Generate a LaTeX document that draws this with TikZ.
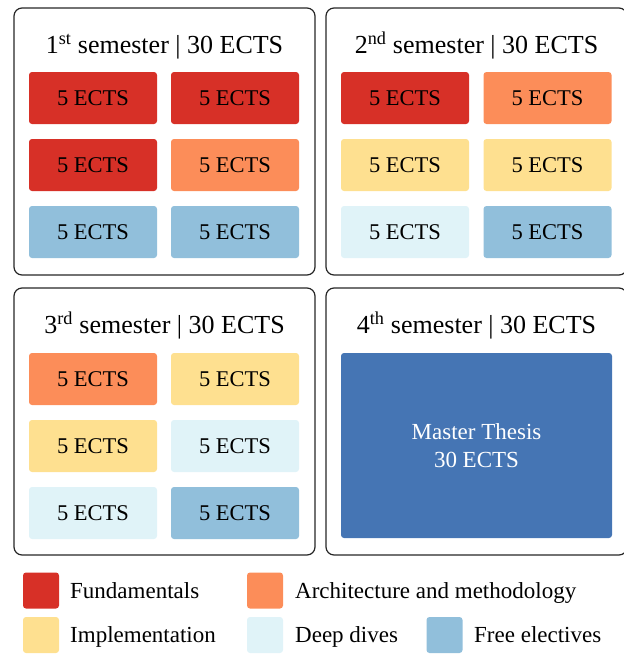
\documentclass[tikz,border=0pt]{standalone}
\usepackage{fontspec}
\setmainfont{Liberation Serif}
\definecolor{fund}{HTML}{D73027}
\definecolor{arch}{HTML}{FC8D59}
\definecolor{impl}{HTML}{FEE090}
\definecolor{deep}{HTML}{E0F3F8}
\definecolor{free}{HTML}{91BFDB}
\definecolor{thesis}{HTML}{4575B4}
\tikzset{
  panel/.style={draw=black!85, line width=1.2pt, rounded corners=8pt, minimum width=301pt, minimum height=267pt, inner sep=0pt},
  course/.style={rounded corners=3pt, minimum width=128pt, minimum height=52pt, inner sep=0pt, font=\fontsize{22.5}{27}\selectfont},
  semtitle/.style={anchor=base, inner sep=0pt, font=\fontsize{26}{30}\selectfont},
  legbox/.style={rounded corners=3pt, minimum width=36pt, minimum height=36pt, inner sep=0pt},
  legtext/.style={anchor=base west, inner sep=0pt, font=\fontsize{23}{27}\selectfont},
}
\begin{document}
\begin{tikzpicture}[x=1pt,y=-1pt]
\useasboundingbox (0,0) rectangle (624,654);
% semester panels
\node[panel] (sem1) at (164.5,141.5) {};
\node[panel] (sem2) at (476.5,141.5) {};
\node[panel] (sem3) at (164.5,421.5) {};
\node[panel] (sem4) at (476.5,421.5) {};

\node[semtitle] (t1) at (164.5,53.5) {1\textsuperscript{st} semester | 30 ECTS};
\node[semtitle] (t2) at (476.5,53.5) {2\textsuperscript{nd} semester | 30 ECTS};
\node[semtitle] (t3) at (164.5,333.5) {3\textsuperscript{rd} semester | 30 ECTS};
\node[semtitle] (t4) at (476.5,333.5) {4\textsuperscript{th} semester | 30 ECTS};

% 1st semester
\node[course, fill=fund] (a1) at (93,98) {5 ECTS};
\node[course, fill=fund] (a2) at (235,98) {5 ECTS};
\node[course, fill=fund] (a3) at (93,165) {5 ECTS};
\node[course, fill=arch] (a4) at (235,165) {5 ECTS};
\node[course, fill=free] (a5) at (93,232) {5 ECTS};
\node[course, fill=free] (a6) at (235,232) {5 ECTS};

% 2nd semester
\node[course, fill=fund] (b1) at (405,98) {5 ECTS};
\node[course, fill=arch] (b2) at (547.5,98) {5 ECTS};
\node[course, fill=impl] (b3) at (405,165) {5 ECTS};
\node[course, fill=impl] (b4) at (547.5,165) {5 ECTS};
\node[course, fill=deep] (b5) at (405,232) {5 ECTS};
\node[course, fill=free] (b6) at (547.5,232) {5 ECTS};

% 3rd semester
\node[course, fill=arch] (c1) at (93,379) {5 ECTS};
\node[course, fill=impl] (c2) at (235,379) {5 ECTS};
\node[course, fill=impl] (c3) at (93,446) {5 ECTS};
\node[course, fill=deep] (c4) at (235,446) {5 ECTS};
\node[course, fill=deep] (c5) at (93,513) {5 ECTS};
\node[course, fill=free] (c6) at (235,513) {5 ECTS};

% 4th semester
\node[course, fill=thesis, minimum width=271pt, minimum height=185pt, align=center, text=white, font=\fontsize{23}{28.5}\selectfont] (d1) at (476.5,445.5) {Master Thesis\\30 ECTS};

% legend
\node[legbox, fill=fund] (l1) at (41,590.5) {};
\node[legtext] (l1t) at (70,598) {Fundamentals};
\node[legbox, fill=arch] (l2) at (265,590.5) {};
\node[legtext] (l2t) at (295,598) {Architecture and methodology};
\node[legbox, fill=impl] (l3) at (41,635) {};
\node[legtext] (l3t) at (70,642) {Implementation};
\node[legbox, fill=deep] (l4) at (265,635) {};
\node[legtext] (l4t) at (295,642) {Deep dives};
\node[legbox, fill=free] (l5) at (444.5,635) {};
\node[legtext] (l5t) at (474,642) {Free electives};
\end{tikzpicture}
\end{document}
